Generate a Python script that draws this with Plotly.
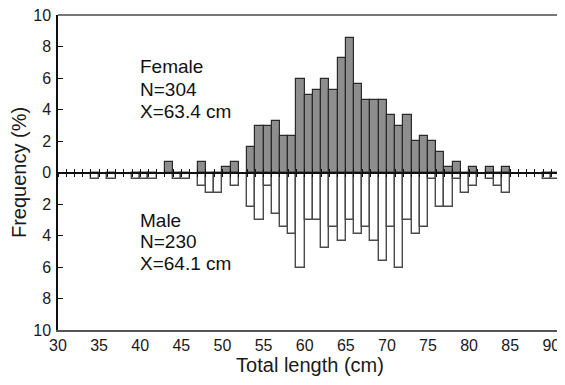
import plotly.graph_objects as go

# Length bins (cm, lower edge of 1-cm class)
female_bins = [43, 47, 50, 51, 53, 54, 55, 56, 57, 58, 59, 60, 61, 62, 63, 64, 65,
               66, 67, 68, 69, 70, 71, 72, 73, 74, 75, 76, 77, 78, 80, 82, 84]
female_pct = [0.66, 0.66, 0.33, 0.66, 1.64, 2.96, 2.96, 3.29, 2.30, 2.30, 5.92, 4.93,
              5.26, 5.92, 5.26, 7.24, 8.55, 5.59, 4.61, 4.61, 4.61, 3.62, 2.96, 3.62,
              1.97, 2.30, 1.97, 1.32, 0.33, 0.66, 0.33, 0.33, 0.33]

male_bins = [34, 36, 39, 40, 41, 44, 45, 47, 48, 49, 51, 53, 54, 55, 56, 57, 58, 59,
             60, 61, 62, 63, 64, 65, 66, 67, 68, 69, 70, 71, 72, 73, 74, 75, 76, 77,
             78, 79, 80, 82, 83, 84, 89, 90, 91]
male_pct = [0.43, 0.43, 0.43, 0.43, 0.43, 0.43, 0.43, 0.87, 1.30, 1.30, 0.87, 2.17,
            3.04, 0.87, 2.61, 3.48, 3.91, 6.09, 3.04, 3.04, 4.78, 3.48, 4.35, 3.04,
            3.91, 3.48, 4.35, 5.65, 3.48, 6.09, 3.04, 3.91, 3.48, 0.43, 2.17, 2.17,
            0.43, 1.30, 0.87, 0.43, 0.87, 1.30, 0.43, 0.43, 0.43]

x_ticks = [30, 35, 40, 45, 50, 55, 60, 65, 70, 75, 80, 85, 90]
y_ticks = [-10, -8, -6, -4, -2, 0, 2, 4, 6, 8, 10]
y_ticktext = [str(abs(v)) for v in y_ticks]

FONT = "Liberation Sans, Arial, sans-serif"

fig = go.Figure()
fig.add_trace(go.Bar(
    x=female_bins, y=female_pct, width=1, offset=0,
    marker=dict(color="#8e8e8e", line=dict(color="#2a2a2a", width=1.2)),
    showlegend=False, hoverinfo="skip"))
fig.add_trace(go.Bar(
    x=male_bins, y=[-v for v in male_pct], width=1, offset=0,
    marker=dict(color="white", line=dict(color="#4a4a4a", width=1.4)),
    showlegend=False, hoverinfo="skip"))
# empty traces so the zero-line axes get drawn
fig.add_trace(go.Scatter(x=[], y=[], xaxis="x2", showlegend=False))
fig.add_trace(go.Scatter(x=[], y=[], xaxis="x3", showlegend=False))

XR = [30, 91.3]
# page body has an 8px default margin, so the figure is sized to fit the window
fig.update_layout(
    width=557, height=377,
    margin=dict(l=50, r=3, t=7, b=55, autoexpand=False),
    paper_bgcolor="white", plot_bgcolor="white",
    barmode="relative", bargap=0,
    font=dict(family=FONT, size=16, color="#1a1a1a"),
    xaxis=dict(range=XR, tickvals=x_ticks, ticks="", showgrid=False, zeroline=False,
               automargin=False, ticklabeloverflow="allow",
               showline=True, linecolor="#555555", linewidth=2,
               tickfont=dict(size=16), title=dict(text="Total length (cm)", font=dict(size=20), standoff=4)),
    xaxis2=dict(range=XR, overlaying="x", anchor="free", position=0.5, dtick=1, tick0=30,
                ticks="outside", ticklen=4, tickwidth=1.3, tickcolor="#111", automargin=False,
                showticklabels=False, showgrid=False, zeroline=False,
                showline=True, linecolor="#111", linewidth=1.5),
    xaxis3=dict(range=XR, overlaying="x", anchor="free", position=0.5, dtick=1, tick0=30,
                ticks="inside", ticklen=4, tickwidth=1.3, tickcolor="#111", automargin=False,
                showticklabels=False, showgrid=False, zeroline=False, showline=False),
    yaxis=dict(range=[-10, 10], tickvals=y_ticks, ticktext=y_ticktext,
               ticks="inside", ticklen=5, tickwidth=1.3, tickcolor="#111",
               automargin=False, ticklabelstandoff=2, ticklabeloverflow="allow",
               showgrid=False, zeroline=False, showline=True, linecolor="#111", linewidth=1.5,
               tickfont=dict(size=16), title=dict(text="Frequency (%)", font=dict(size=20), standoff=4)),
)

# top frame line
fig.add_shape(type="line", xref="paper", yref="paper", x0=0, x1=1, y0=1, y1=1,
              line=dict(color="#777777", width=2))

labels = [("Female", 6.70), ("N=304", 5.26), ("X=63.4 cm", 3.85),
          ("Male", -3.07), ("N=230", -4.36), ("X=64.1 cm", -5.75)]
for txt, yy in labels:
    fig.add_annotation(x=39.7, y=yy, xref="x", yref="y", text=txt, showarrow=False,
                       xanchor="left", yanchor="middle", font=dict(size=19, color="#111"))

fig.write_html("out.html")
